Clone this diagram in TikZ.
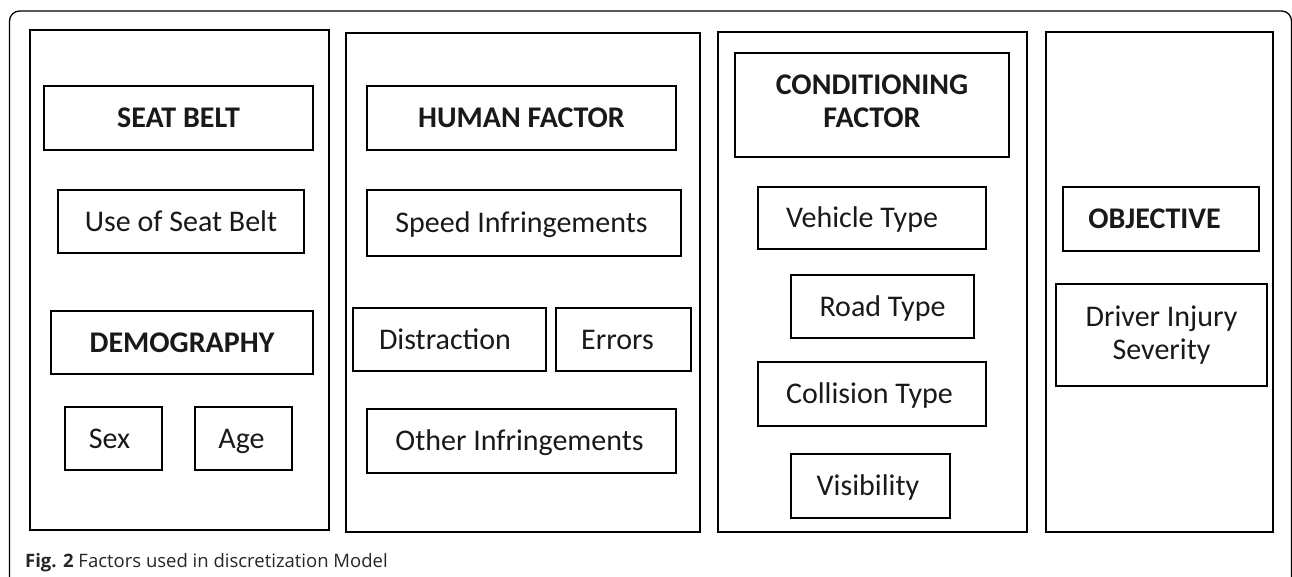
\documentclass[tikz,border=0pt]{standalone}
\usepackage{fontspec}
\setmainfont{Carlito}
\newfontfamily\capfont{Open Sans}
\begin{document}
\begin{tikzpicture}[x=1pt,y=-1pt,
  column/.style={draw=black, line width=1.8pt, inner sep=0pt, outer sep=0pt},
  boxbase/.style={draw=black, line width=1.8pt, inner sep=0pt, outer sep=0pt,
    align=center, font=\fontsize{30}{33}\selectfont, text=black!90},
  factor/.style={boxbase, text height=19.5pt, text depth=0pt},
  heading/.style={factor, font=\fontsize{30}{33}\selectfont\bfseries},
  twoline/.style={boxbase},
  twohead/.style={boxbase, font=\fontsize{30}{33}\selectfont\bfseries}]
\useasboundingbox (0,0) rectangle (1292,576);

% outer frame
\draw[line width=1.3pt, rounded corners=10pt] (9.5,600) -- (9.5,11) -- (1291.5,11) -- (1291.5,600);

% columns
\node[column, minimum width=299pt, minimum height=500pt] (c1) at (179.5,280) {};
\node[column, minimum width=354pt, minimum height=499pt] (c2) at (523,282.5) {};
\node[column, minimum width=309pt, minimum height=500pt] (c3) at (872.5,282) {};
\node[column, minimum width=227pt, minimum height=500pt] (c4) at (1159.5,282) {};

% seat belt and demography
\node[heading, minimum width=269pt, minimum height=64pt] (sb) at (178.5,118) {SEAT BELT};
\node[factor, minimum width=246pt, minimum height=63pt] (usb) at (181,221.5) {Use of Seat Belt};
\node[heading, minimum width=262pt, minimum height=63pt] (dem) at (182,342.5) {DEMOGRAPHY};
\node[factor, minimum width=97pt, minimum height=63pt] (sex) at (113.5,438.5) {\hspace*{-8pt}Sex};
\node[factor, minimum width=97pt, minimum height=63pt] (age) at (243.5,438.5) {\hspace*{-4pt}Age};

% human factor
\node[heading, minimum width=309pt, minimum height=64pt] (hf) at (521.5,118) {HUMAN FACTOR};
\node[factor, minimum width=314pt, minimum height=66pt] (spd) at (524,223) {\hspace*{-5pt}Speed Infringements};
\node[factor, minimum width=193pt, minimum height=63pt] (dis) at (449.5,339.5) {\hspace*{-9pt}Distraction};
\node[factor, minimum width=135pt, minimum height=63pt] (err) at (623.5,339.5) {\hspace*{-12pt}Errors};
\node[factor, minimum width=309pt, minimum height=64pt] (oth) at (521.5,441) {\hspace*{-4pt}Other Infringements};

% conditioning factor (extra depth on the last line lifts the text a little)
\node[twohead, minimum width=274pt, minimum height=104pt] (cond) at (872,105) {CONDITIONING\\FACTOR\rule[-7pt]{0pt}{0pt}};
\node[factor, minimum width=228pt, minimum height=62pt] (veh) at (872,218) {\hspace*{-20pt}Vehicle Type};
\node[factor, minimum width=183pt, minimum height=63pt] (road) at (882.5,306.5) {Road Type};
\node[factor, minimum width=228pt, minimum height=64pt] (coll) at (872,394) {\hspace*{-5pt}Collision Type};
\node[factor, minimum width=159pt, minimum height=64pt] (vis) at (870.5,486) {\hspace*{-5pt}Visibility};

% objective
\node[heading, minimum width=196pt, minimum height=64pt] (obj) at (1161,219) {\hspace*{-13pt}OBJECTIVE};
\node[twoline, minimum width=211pt, minimum height=102pt] (dis2) at (1161.5,335) {Driver Injury\\Severity};

% caption
\node[anchor=base west, inner sep=0pt, font=\capfont\fontsize{18.5}{22}\selectfont, text=black!85] (cap) at (25,567)
  {\textbf{Fig. 2} Factors used in discretization Model};
\end{tikzpicture}
\end{document}
